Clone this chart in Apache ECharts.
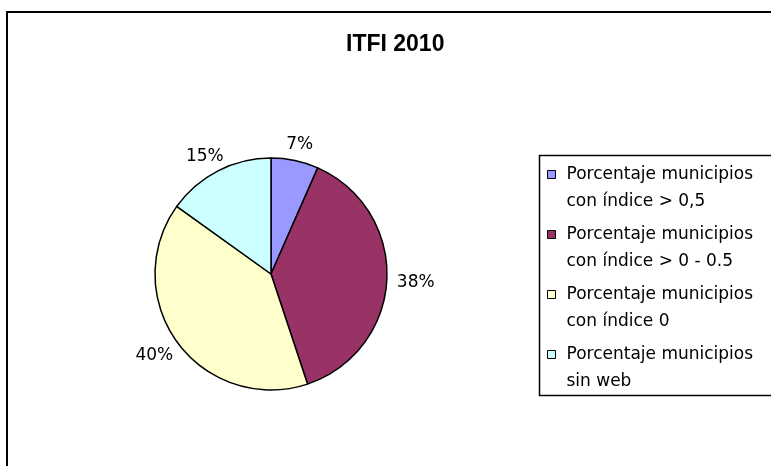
<!DOCTYPE html>
<html>
<head>
<meta charset="utf-8">
<script src="https://cdn.jsdelivr.net/npm/echarts@6/dist/echarts.min.js"></script>
<style>
  html, body { margin: 0; padding: 0; background: #fff; }
  #main { width: 771px; height: 466px; }
</style>
</head>
<body>
<div id="main"></div>
<script>
// datos
const categories = [
  'Porcentaje municipios\ncon índice > 0,5',
  'Porcentaje municipios\ncon índice > 0 - 0.5',
  'Porcentaje municipios\ncon índice 0',
  'Porcentaje municipios\nsin web'
]
const values = [6.6, 38.3, 40.0, 15.1]
const colors = ['#9999FF', '#993366', '#FFFFCC', '#CCFFFF']

const pieCenter = [271, 274]
const pieRadius = 116
const total = values.reduce((a, b) => a + b, 0)

let chartDom = document.getElementById('main')
let myChart = echarts.init(chartDom)
let option

option = {
  animation: false,
  color: colors,
  title: {
    text: 'ITFI 2010',
    left: 346,
    top: 33,
    padding: 0,
    textStyle: {
      fontFamily: 'Liberation Sans',
      fontWeight: 'bold',
      fontSize: 23,
      color: '#000'
    }
  },
  graphic: [
    {
      type: 'rect',
      shape: { x: 7, y: 12, width: 820, height: 500 },
      style: { fill: 'none', stroke: '#000', lineWidth: 2 },
      silent: true
    },
    {
      type: 'rect',
      shape: { x: 539.5, y: 155.5, width: 300, height: 240 },
      style: { fill: 'none', stroke: '#000', lineWidth: 1.5 },
      silent: true
    }
  ],
  legend: {
    orient: 'vertical',
    left: 547,
    top: 134,
    padding: 0,
    itemGap: -21,
    itemWidth: 8,
    itemHeight: 8,
    icon: 'rect',
    selectedMode: false,
    itemStyle: { borderColor: '#000', borderWidth: 1 },
    // linea vacia arriba para que el icono quede junto a la primera linea
    formatter: name => '\n' + name,
    textStyle: {
      fontFamily: 'DejaVu Sans',
      fontSize: 17,
      lineHeight: 27,
      color: '#000',
      padding: [0, 0, 0, 6]
    },
    data: categories
  },
  series: [
    {
      type: 'pie',
      center: pieCenter,
      radius: pieRadius,
      startAngle: 90,
      clockwise: true,
      emphasis: { disabled: true },
      itemStyle: { borderColor: '#000', borderWidth: 1.5 },
      label: {
        show: true,
        position: 'outside',
        fontFamily: 'DejaVu Sans',
        fontSize: 17,
        color: '#000',
        formatter: p => Math.round(p.value) + '%'
      },
      labelLine: { show: false },
      labelLayout: function (params) {
        let i = params.dataIndex
        let before = 0
        for (let k = 0; k < i; k++) before += values[k]
        let mid = (before + values[i] / 2) / total * 2 * Math.PI
        let ux = Math.sin(mid)
        let uy = -Math.cos(mid)
        let w = params.labelRect.width
        return {
          x: pieCenter[0] + (pieRadius + 10) * ux + ux * w / 2,
          y: pieCenter[1] + (pieRadius + 10) * uy + uy * 8 + 2,
          align: 'center',
          verticalAlign: 'middle'
        }
      },
      data: categories.map((name, i) => ({ name: name, value: values[i] }))
    }
  ]
}

option && myChart.setOption(option)
</script>
</body>
</html>
